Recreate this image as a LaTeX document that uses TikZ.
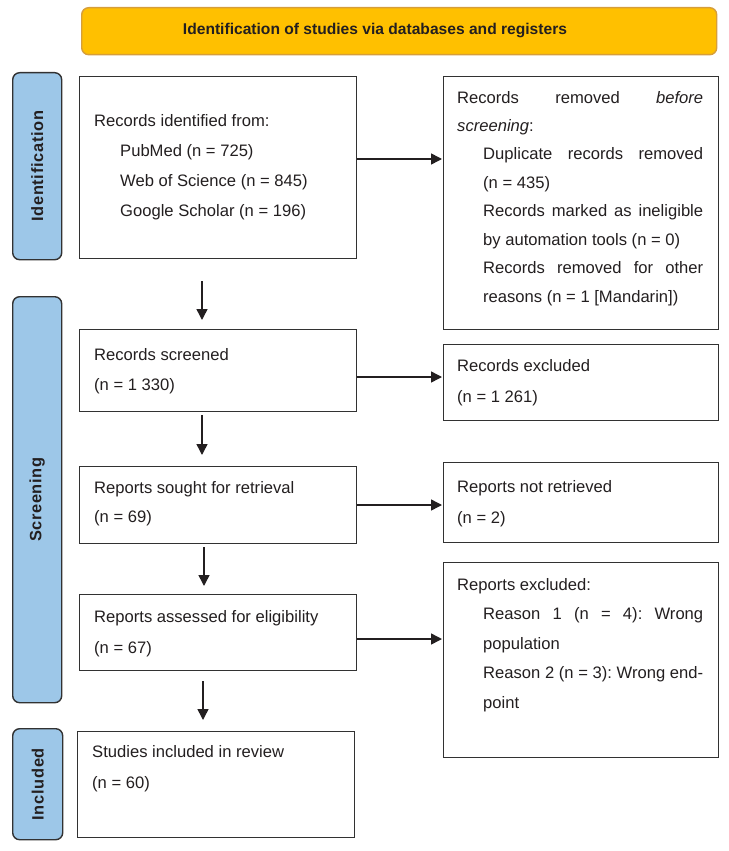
\documentclass[tikz,border=0pt]{standalone}
\usepackage{fontspec}
\setmainfont{Liberation Sans}
\usetikzlibrary{calc,arrows.meta}
\definecolor{bannerfill}{RGB}{255,192,0}
\definecolor{bannerdraw}{RGB}{214,158,58}
\definecolor{barfill}{RGB}{157,199,232}
\definecolor{ink}{RGB}{35,31,32}
\definecolor{edge}{RGB}{50,50,50}
\newcommand{\natsp}{\spaceskip=0pt\xspaceskip=0pt\relax}
\begin{document}
\begin{tikzpicture}[x=1pt,y=-1pt,
  box/.style={draw=edge,line width=1.4pt,fill=white,rectangle,anchor=north west,inner sep=0pt},
  bar/.style={draw=edge,line width=1.4pt,fill=barfill,rounded corners=7pt,rectangle,anchor=north west,inner sep=0pt},
  banner/.style={draw=bannerdraw,line width=1.4pt,fill=bannerfill,rounded corners=7pt,rectangle,anchor=north west,inner sep=0pt},
  txt/.style={anchor=base west,inner sep=0pt,text width=260pt,align=left,text=ink,font=\fontsize{16.6}{30}\selectfont},
  barlabel/.style={rotate=90,inner sep=0pt,text=ink,font=\fontsize{16.4}{20}\selectfont\bfseries\addfontfeature{LetterSpace=4}},
  arr/.style={draw=ink,line width=1.5pt,-{Triangle[length=11pt,width=11pt]}}
]
\useasboundingbox (0,0) rectangle (728,851);

% banner
\node[banner,minimum width=635pt,minimum height=47pt] (banner) at (81,7) {};
\node[inner sep=0pt,text=ink,font=\fontsize{15.6}{18}\selectfont\bfseries] (title) at (375,31) {Identification of studies via databases and registers};

% side bars
\node[bar,minimum width=49pt,minimum height=187pt] (idbar) at (12,72) {};
\node[bar,minimum width=49pt,minimum height=406pt] (scbar) at (12,296) {};
\node[bar,minimum width=50pt,minimum height=111pt] (inbar) at (12,728) {};
\node[barlabel] (idlab) at (idbar.center) {Identification};
\node[barlabel] (sclab) at (scbar.center) {Screening};
\node[barlabel] (inlab) at (inbar.center) {Included};

% left boxes
\node[box,minimum width=277pt,minimum height=182pt] (b1) at (79,76) {};
\node[box,minimum width=277pt,minimum height=82pt] (b2) at (79,329) {};
\node[box,minimum width=277pt,minimum height=77pt] (b3) at (79,466) {};
\node[box,minimum width=277pt,minimum height=76pt] (b4) at (79,594) {};
\node[box,minimum width=277pt,minimum height=106pt] (b5) at (77,731) {};

% right boxes
\node[box,minimum width=275pt,minimum height=253pt] (r1) at (443,76) {};
\node[box,minimum width=275pt,minimum height=76pt] (r2) at (443,344) {};
\node[box,minimum width=275pt,minimum height=80pt] (r3) at (443,462) {};
\node[box,minimum width=275pt,minimum height=195pt] (r4) at (443,562) {};

% texts
\node[txt] (t1) at (94,126) {\natsp Records identified from:\\
\hspace*{26pt}PubMed (n = 725)\\
\hspace*{26pt}Web of Science (n = 845)\\
\hspace*{26pt}Google Scholar (n = 196)};
\node[txt] (t2) at (94,360) {\natsp Records screened\\(n = 1 330)};
\node[txt,font=\fontsize{16.6}{29}\selectfont] (t3) at (94,493) {\natsp Reports sought for retrieval\\(n = 69)};
\node[txt,font=\fontsize{16.6}{31}\selectfont] (t4) at (94,622) {\natsp Reports assessed for eligibility\\(n = 67)};
\node[txt,font=\fontsize{16.6}{31}\selectfont] (t5) at (92,757) {\natsp Studies included in review\\(n = 60)};

\node[txt,font=\fontsize{16.6}{28.45}\selectfont] (tr1) at (457,103) {\natsp\makebox[246pt][s]{Records\hfill removed\hfill \textit{before}}\\
\textit{screening}:\\
\hspace*{26pt}\makebox[220pt][s]{Duplicate\hfill records\hfill removed}\\
\hspace*{26pt}(n = 435)\\
\hspace*{26pt}\makebox[220pt][s]{Records\hfill marked\hfill as\hfill ineligible}\\
\hspace*{26pt}by automation tools (n = 0)\\
\hspace*{26pt}\makebox[220pt][s]{Records\hfill removed\hfill for\hfill other}\\
\hspace*{26pt}reasons (n = 1 [Mandarin])};
\node[txt,font=\fontsize{16.6}{31}\selectfont] (tr2) at (457,371) {\natsp Records excluded\\(n = 1 261)};
\node[txt,font=\fontsize{16.6}{31}\selectfont] (tr3) at (457,492) {\natsp Reports not retrieved\\(n = 2)};
\node[txt,font=\fontsize{16.6}{29.5}\selectfont] (tr4) at (457,590) {\natsp Reports excluded:\\
\hspace*{26pt}\makebox[220pt][s]{Reason\hfill 1\hfill (n\hfill =\hfill 4):\hfill Wrong}\\
\hspace*{26pt}population\\
\hspace*{26pt}\makebox[220pt][s]{Reason\hfill 2\hfill (n\hfill =\hfill 3):\hfill Wrong\hfill end-}\\
\hspace*{26pt}point};

% horizontal arrows
\draw[arr] ($(b1.north east)+(0,83)$) -- ($(r1.north west)+(-1,83)$);
\draw[arr] ($(b2.north east)+(0,48)$) -- ($(r2.north west)+(-1,33)$);
\draw[arr] ($(b3.north east)+(0,39)$) -- ($(r3.north west)+(-1,43)$);
\draw[arr] ($(b4.north east)+(0,45)$) -- ($(r4.north west)+(-1,77)$);

% vertical arrows
\draw[arr] ($(b1.south west)+(123,22)$) -- ($(b2.north west)+(123,-9)$);
\draw[arr] ($(b2.south west)+(123,3)$) -- ($(b3.north west)+(123,-11)$);
\draw[arr] ($(b3.south west)+(125,3)$) -- ($(b4.north west)+(125,-8)$);
\draw[arr] ($(b4.south west)+(124,10)$) -- ($(b5.north west)+(126,-11)$);
\end{tikzpicture}
\end{document}
